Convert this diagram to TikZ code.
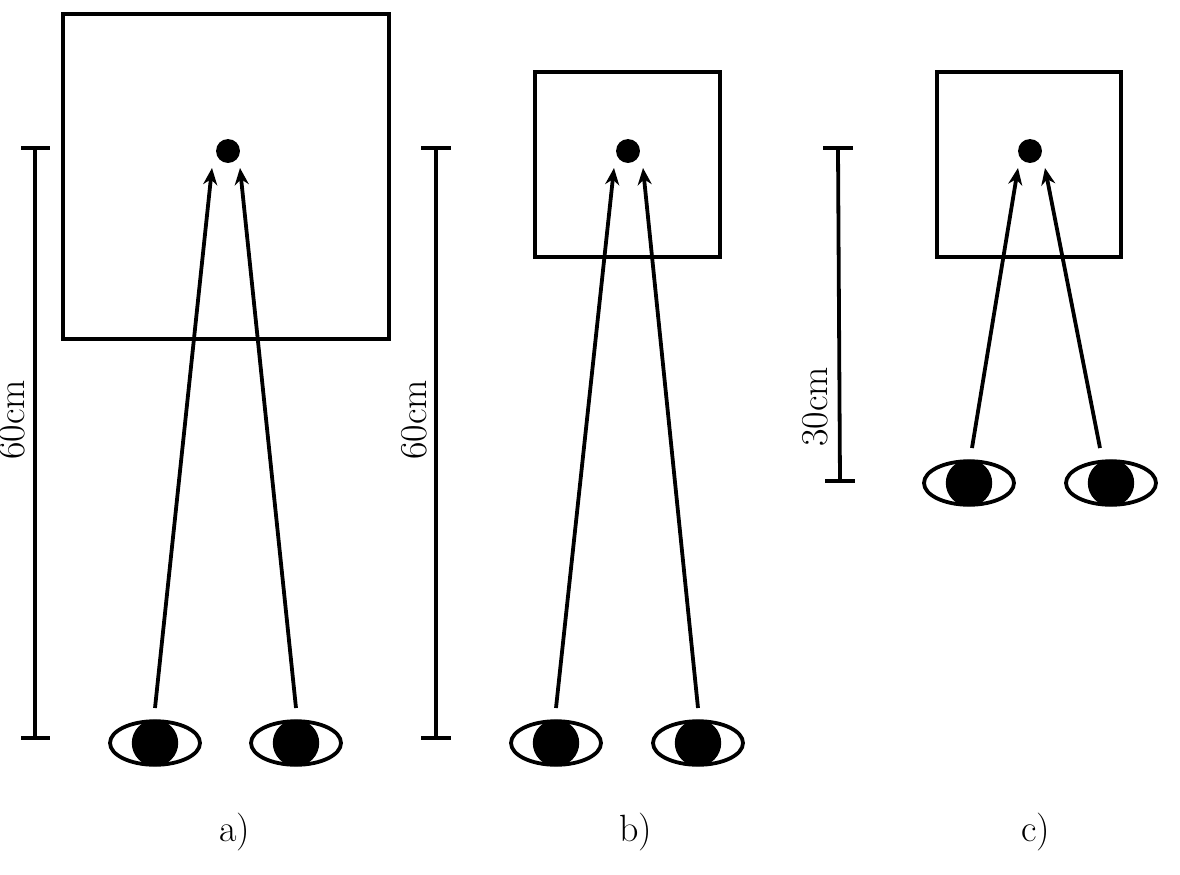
\documentclass[tikz,border=0pt]{standalone}
\usetikzlibrary{shapes.geometric,arrows.meta}
\begin{document}
\begin{tikzpicture}[x=0.025cm,y=-0.025cm,line width=2.7pt,>={Stealth[length=12pt,width=10pt]},
	eye/.style={ellipse,draw,inner sep=0pt,minimum width=64pt,minimum height=31pt},
	pupil/.style={circle,fill=black,inner sep=0pt,minimum size=33pt},
	dot/.style={circle,fill=black,inner sep=0pt,minimum size=17pt},
	lbl/.style={font=\fontsize{27}{32}\selectfont}]
	\useasboundingbox (0,0) rectangle (1180,875);

	% a)
	\draw (63,14) rectangle (389,339);
	\node[dot] (ta) at (228,151) {};
	\node[eye] (ea1) at (155,743) {};
	\node[pupil] (pa1) at (155,743) {};
	\node[eye] (ea2) at (296,743) {};
	\node[pupil] (pa2) at (296,743) {};
	\coordinate (sa1) at (155,708);
	\coordinate (sa2) at (296,708);
	\coordinate (ha1) at (212,168);
	\coordinate (ha2) at (240,168);
	\draw[->] (sa1) -- (ha1);
	\draw[->] (sa2) -- (ha2);
	\coordinate (ba1) at (35,148);
	\coordinate (ba2) at (35,738);
	\draw (ba1) -- (ba2);
	\draw (21,148) -- (50,148) (21,738) -- (50,738);
	\node[lbl,rotate=90] (la) at (12,420) {60cm};
	\node[lbl] (na) at (235,832) {a)};

	% b)
	\draw (535,72) rectangle (720,257);
	\node[dot] (tb) at (628,151) {};
	\node[eye] (eb1) at (556,743) {};
	\node[pupil] (pb1) at (556,743) {};
	\node[eye] (eb2) at (698,743) {};
	\node[pupil] (pb2) at (698,743) {};
	\coordinate (sb1) at (556,708);
	\coordinate (sb2) at (698,708);
	\coordinate (hb1) at (614,168);
	\coordinate (hb2) at (643,168);
	\draw[->] (sb1) -- (hb1);
	\draw[->] (sb2) -- (hb2);
	\coordinate (bb1) at (436,148);
	\coordinate (bb2) at (436,738);
	\draw (bb1) -- (bb2);
	\draw (421,148) -- (451,148) (421,738) -- (451,738);
	\node[lbl,rotate=90] (lb) at (414,420) {60cm};
	\node[lbl] (nb) at (636,832) {b)};

	% c)
	\draw (937,72) rectangle (1121,257);
	\node[dot] (tc) at (1030,151) {};
	\node[eye] (ec1) at (969,483) {};
	\node[pupil] (pc1) at (969,483) {};
	\node[eye] (ec2) at (1111,483) {};
	\node[pupil] (pc2) at (1111,483) {};
	\coordinate (sc1) at (972,448);
	\coordinate (sc2) at (1100,448);
	\coordinate (hc1) at (1018,168);
	\coordinate (hc2) at (1045,168);
	\draw[->] (sc1) -- (hc1);
	\draw[->] (sc2) -- (hc2);
	\coordinate (bc1) at (838,148);
	\coordinate (bc2) at (840,481);
	\draw (bc1) -- (bc2);
	\draw (823,148) -- (853,148) (825,481) -- (855,481);
	\node[lbl,rotate=90] (lc) at (815,407) {30cm};
	\node[lbl] (nc) at (1036,832) {c)};
\end{tikzpicture}
\end{document}
